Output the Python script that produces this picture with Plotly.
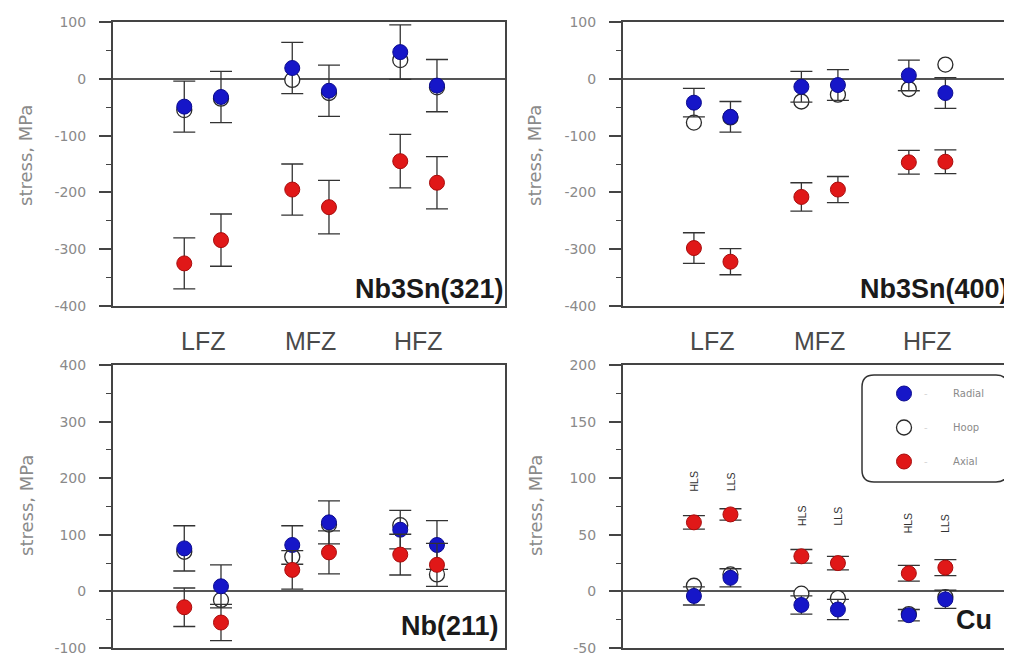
import plotly.graph_objects as go

# ---------------- data ----------------
zones = ["LFZ", "MFZ", "HFZ"]
samples = ["HLS", "LLS"]

# Nb3Sn(321)
nb321_radial = [-49, -32, 19, -21, 47, -12]
nb321_radial_err = [45, 45, 45, 45, 48, 46]
nb321_hoop = [-55, -35, -2, -25, 33, -15]
nb321_axial = [-325, -284, -195, -226, -145, -183]
nb321_axial_err = [45, 46, 45, 47, 47, 46]

# Nb3Sn(400)
nb400_radial = [-42, -67, -14, -11, 6, -25]
nb400_radial_err = [25, 27, 27, 27, 27, 27]
nb400_hoop = [-77, -68, -40, -28, -18, 25]
nb400_axial = [-298, -322, -208, -195, -147, -146]
nb400_axial_err = [27, 23, 25, 23, 21, 21]

# Nb(211)
nb211_radial = [76, 9, 82, 122, 109, 82]
nb211_radial_err = [40, 38, 34, 38, 34, 43]
nb211_hoop = [70, -15, 61, 118, 117, 30]
nb211_axial = [-28, -55, 38, 69, 65, 47]
nb211_axial_err = [34, 32, 34, 38, 36, 38]

# Cu
cu_radial = [-4, 12, -12, -16, -21, -7]
cu_radial_err = [8, 8, 8, 9, 5, 8]
cu_hoop = [5, 15, -2, -6, -20, -5]
cu_axial = [61, 68, 31, 25, 16, 21]
cu_axial_err = [6, 5, 6, 6, 7, 7]

panel_names = ["Nb3Sn(321)", "Nb3Sn(400)", "Nb(211)", "Cu"]
panel_ranges = [(-400, 100), (-400, 100), (-100, 400), (-50, 200)]
panel_dticks = [100, 100, 100, 50]

# ---------------- layout helpers ----------------
# the page body adds an 8 px offset, so the figure is sized to fill the window
OFF = 8
W, H = 1012 - OFF, 658 - OFF
def px_x(p): return (p - OFF) / W
def px_y(p): return 1 - (p - OFF) / H

OFFSET = 0.17
xpos = []
for gi, _z in enumerate(zones):
    for si, _s in enumerate(samples):
        xpos.append(gi + 1 + (-OFFSET if si == 0 else OFFSET))

BLUE = "#1616c8"
RED = "#e01818"
EBAR = "#333333"
AXC = "#444444"
TICKC = "#8a8a8a"

xdom = [(px_x(113), px_x(505)), (px_x(623), 1.0)]
ydom = [(px_y(306), px_y(22)), (px_y(648), px_y(365))]
xranges = [(0.17, 3.80), (0.17, 3.79)]

fig = go.Figure()

panels = [
    (nb321_radial, nb321_radial_err, nb321_hoop, nb321_axial, nb321_axial_err),
    (nb400_radial, nb400_radial_err, nb400_hoop, nb400_axial, nb400_axial_err),
    (nb211_radial, nb211_radial_err, nb211_hoop, nb211_axial, nb211_axial_err),
    (cu_radial, cu_radial_err, cu_hoop, cu_axial, cu_axial_err),
]

legend_names = {
    "Radial": "<span style='color:#d6d6d6'>-</span>        Radial",
    "Hoop": "<span style='color:#d6d6d6'>-</span>        Hoop",
    "Axial": "<span style='color:#d6d6d6'>-</span>        Axial",
}

MS = 15
for i, (rad, rad_e, hoop, ax_, ax_e) in enumerate(panels):
    n = i + 1
    xa = "x" if n == 1 else f"x{n}"
    ya = "y" if n == 1 else f"y{n}"
    show = (i == 3)
    fig.add_trace(go.Scatter(
        x=xpos, y=hoop, mode="markers", xaxis=xa, yaxis=ya,
        marker=dict(size=MS, color="white", line=dict(color="#2a2a2a", width=1.3)),
        name=legend_names["Hoop"], showlegend=show, legendrank=2, legendgroup="h"))
    fig.add_trace(go.Scatter(
        x=xpos, y=rad, mode="markers", xaxis=xa, yaxis=ya,
        error_y=dict(type="data", array=rad_e, color=EBAR, thickness=1.3, width=11),
        marker=dict(size=MS, color=BLUE, line=dict(color="#0c0c90", width=1)),
        name=legend_names["Radial"], showlegend=show, legendrank=1, legendgroup="r"))
    fig.add_trace(go.Scatter(
        x=xpos, y=ax_, mode="markers", xaxis=xa, yaxis=ya,
        error_y=dict(type="data", array=ax_e, color=EBAR, thickness=1.3, width=11),
        marker=dict(size=MS, color=RED, line=dict(color="#a80c0c", width=1)),
        name=legend_names["Axial"], showlegend=show, legendrank=3, legendgroup="a"))

layout = {}
for i in range(4):
    n = i + 1
    col = i % 2
    row = i // 2
    lo, hi = panel_ranges[i]
    d = panel_dticks[i]
    vals = list(range(lo, hi + 1, d))
    txt = [str(v) for v in vals]
    xkey = "xaxis" if n == 1 else f"xaxis{n}"
    ykey = "yaxis" if n == 1 else f"yaxis{n}"
    layout[xkey] = dict(
        domain=list(xdom[col]), range=list(xranges[col]), anchor="y" if n == 1 else f"y{n}",
        showline=True, mirror=True, linecolor=AXC, linewidth=2, automargin=False,
        showgrid=False, zeroline=False, showticklabels=False, ticks="")
    layout[ykey] = dict(
        domain=list(ydom[row]), range=[lo, hi], anchor="x" if n == 1 else f"x{n}",
        showline=True, mirror=True, linecolor=AXC, linewidth=2, automargin=False,
        showgrid=False, zeroline=True, zerolinecolor="#555555", zerolinewidth=2,
        tickmode="array", tickvals=vals, ticktext=txt,
        ticks="outside", ticklen=12, tickwidth=1.5, tickcolor=AXC,
        ticklabelstandoff=10,
        tickfont=dict(family="DejaVu Sans", size=14, color=TICKC),
        minor=dict(tickmode="linear", tick0=lo, dtick=d / 2, ticks="outside",
                   ticklen=5, tickwidth=1.2, tickcolor=AXC))

annotations = []
# y-axis titles
ytitle_pos = [(26, 156), (535, 156), (26, 506), (535, 506)]
for (xp, yp) in ytitle_pos:
    annotations.append(dict(
        text="stress, MPa", x=px_x(xp), y=px_y(yp), xref="paper", yref="paper",
        textangle=-90, showarrow=False, xanchor="center", yanchor="middle",
        font=dict(family="DejaVu Sans", size=18, color="#8a8a8a")))

# panel names
name_pos = [(506, 289), (1011, 289), (501, 626), (994, 620)]
for name, (xp, yp) in zip(panel_names, name_pos):
    annotations.append(dict(
        text=f"<b>{name}</b>", x=px_x(xp), y=px_y(yp), xref="paper", yref="paper",
        showarrow=False, xanchor="right", yanchor="middle",
        font=dict(family="Liberation Sans", size=27, color="#1a1a1a")))

# zone labels between the rows
for xa in ["x3", "x4"]:
    for gi, z in enumerate(zones):
        annotations.append(dict(
            text=z, x=gi + 1, y=px_y(341), xref=xa, yref="paper",
            showarrow=False, xanchor="center", yanchor="middle",
            font=dict(family="Liberation Sans", size=25, color="#4a4a4a")))

# HLS / LLS labels in the Cu panel
cu_label_y = [97, 67, 60]
for k, xv in enumerate(xpos):
    annotations.append(dict(
        text=samples[k % 2], x=xv, y=cu_label_y[k // 2], xref="x4", yref="y4",
        textangle=-90, showarrow=False, xanchor="center", yanchor="middle",
        font=dict(family="Liberation Sans", size=10.5, color="#333333")))

# rounded legend box
x0, x1 = px_x(862), px_x(1008)
y0, y1 = px_y(482), px_y(375)
rx, ry = 12 / W, 12 / H
path = (f"M {x0+rx},{y1} L {x1-rx},{y1} Q {x1},{y1} {x1},{y1-ry} "
        f"L {x1},{y0+ry} Q {x1},{y0} {x1-rx},{y0} "
        f"L {x0+rx},{y0} Q {x0},{y0} {x0},{y0+ry} "
        f"L {x0},{y1-ry} Q {x0},{y1} {x0+rx},{y1} Z")

fig.update_layout(
    **layout,
    width=W, height=H,
    margin=dict(l=0, r=0, t=0, b=0),
    paper_bgcolor="white", plot_bgcolor="white",
    annotations=annotations,
    shapes=[dict(type="path", path=path, xref="paper", yref="paper",
                 line=dict(color="#333333", width=1.5), fillcolor="rgba(0,0,0,0)")],
    showlegend=True,
    legend=dict(x=px_x(884), y=px_y(379), xanchor="left", yanchor="top",
                bgcolor="rgba(0,0,0,0)", borderwidth=0,
                tracegroupgap=15,
                font=dict(family="DejaVu Sans", size=10, color="#8a8a8a")),
)

fig.write_html("out.html")
